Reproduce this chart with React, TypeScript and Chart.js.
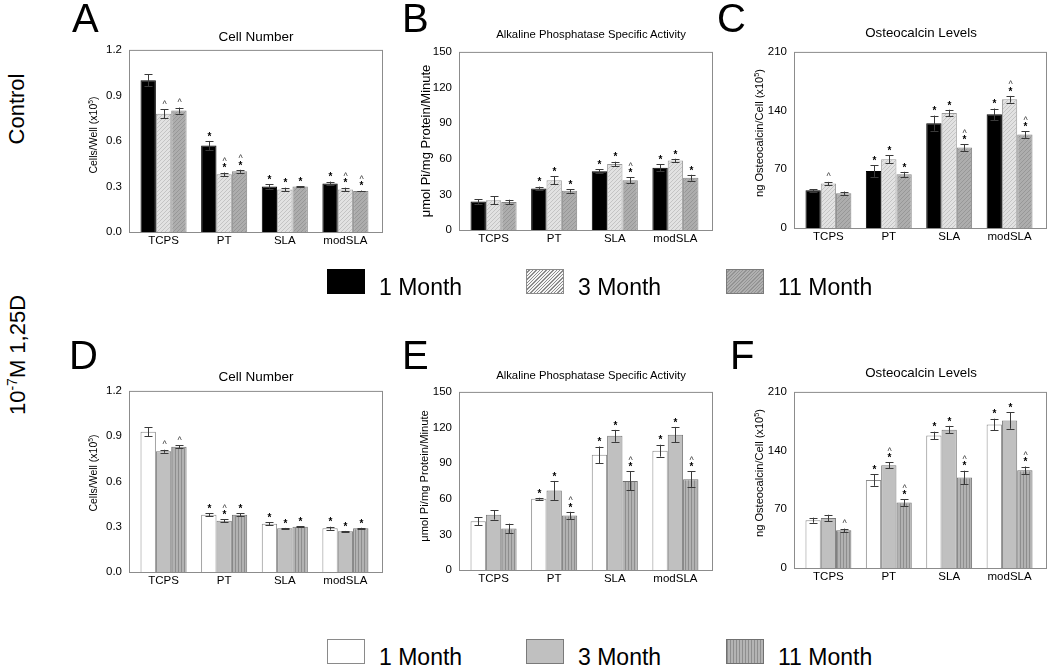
import React, { useEffect, useRef } from 'react';
import { Chart, registerables } from 'chart.js';
Chart.register(...registerables);

const FONT = "'Liberation Sans', Arial, Helvetica, sans-serif";

const categories = ['TCPS', 'PT', 'SLA', 'modSLA'];
const seriesNames = ['1 Month', '3 Month', '11 Month'];

const yTicksCell = [0, 0.3, 0.6, 0.9, 1.2];
const yTicksAlp = [0, 30, 60, 90, 120, 150];
const yTicksOc = [0, 70, 140, 210];

// Panel A — Control, cell number
const cellCtrl1 = [1.0, 0.57, 0.3, 0.32];
const cellCtrl3 = [0.78, 0.38, 0.28, 0.28];
const cellCtrl11 = [0.8, 0.4, 0.3, 0.27];
const cellCtrl1Err = [0.04, 0.03, 0.014, 0.012];
const cellCtrl3Err = [0.03, 0.012, 0.012, 0.012];
const cellCtrl11Err = [0.02, 0.01, 0.003, 0.003];
const cellCtrl1Sig = ['', '*', '*', '*'];
const cellCtrl3Sig = ['^', '*^', '*', '*^'];
const cellCtrl11Sig = ['^', '*^', '*', '*^'];

// Panel B — Control, ALP
const alpCtrl1 = [24, 35, 49.5, 52.5];
const alpCtrl3 = [25, 42, 55.5, 58.5];
const alpCtrl11 = [23.5, 33, 42, 44];
const alpCtrl1Err = [2, 1.5, 1.5, 3];
const alpCtrl3Err = [3.5, 3.5, 2, 1.5];
const alpCtrl11Err = [2, 1.5, 2.5, 2.5];
const alpCtrl1Sig = ['', '*', '*', '*'];
const alpCtrl3Sig = ['', '*', '*', '*'];
const alpCtrl11Sig = ['', '*', '*^', '*'];

// Panel C — Control, osteocalcin
const ocCtrl1 = [45, 68, 125, 135.5];
const ocCtrl3 = [53, 82, 137, 153.5];
const ocCtrl11 = [41.5, 64, 96, 111.5];
const ocCtrl1Err = [1.5, 7, 9, 7];
const ocCtrl3Err = [2, 5, 4, 4];
const ocCtrl11Err = [2, 3, 4, 4];
const ocCtrl1Sig = ['', '*', '*', '*'];
const ocCtrl3Sig = ['^', '*', '*', '*^'];
const ocCtrl11Sig = ['', '*', '*^', '*^'];

// Panel D — 1,25D, cell number
const cellVD1 = [0.93, 0.38, 0.32, 0.29];
const cellVD3 = [0.8, 0.34, 0.29, 0.27];
const cellVD11 = [0.83, 0.38, 0.3, 0.29];
const cellVD1Err = [0.03, 0.01, 0.01, 0.01];
const cellVD3Err = [0.01, 0.01, 0.002, 0.002];
const cellVD11Err = [0.01, 0.01, 0.003, 0.003];
const cellVD1Sig = ['', '*', '*', '*'];
const cellVD3Sig = ['^', '*^', '*', '*'];
const cellVD11Sig = ['^', '*', '*', '*'];

// Panel E — 1,25D, ALP
const alpVD1 = [41, 60, 97, 100.5];
const alpVD3 = [46.5, 67, 113, 114];
const alpVD11 = [35, 46, 75, 76.5];
const alpVD1Err = [3.5, 0.8, 7, 5];
const alpVD3Err = [4, 8, 5, 6.5];
const alpVD11Err = [4, 3, 8, 6.5];
const alpVD1Sig = ['', '*', '*', '*'];
const alpVD3Sig = ['', '*', '*', '*'];
const alpVD11Sig = ['', '*^', '*^', '*^'];

// Panel F — 1,25D, osteocalcin
const ocVD1 = [57, 105, 158, 171];
const ocVD3 = [59.5, 122.5, 165, 176];
const ocVD11 = [45, 78, 108, 116.5];
const ocVD1Err = [3, 7, 4.5, 7];
const ocVD3Err = [4, 3.5, 4.5, 10];
const ocVD11Err = [2, 4, 8, 4.5];
const ocVD1Sig = ['', '*', '*', '*'];
const ocVD3Sig = ['', '*^', '*', '*'];
const ocVD11Sig = ['^', '*^', '*^', '*^'];

const X_MIN = -0.57;
const X_MAX = 3.62;

type FillKey = 'black' | 'diagLight' | 'diagGray' | 'white' | 'gray' | 'vertGray';

type Spec = {
  L: number; T: number; R: number; B: number;
  yMax: number; yTicks: number[]; yDec: number;
  means: number[][]; errs: number[][]; sigs: string[][];
  fills: FillKey[]; borders: string[];
};

function makeFill(key: FillKey): string | CanvasPattern {
  if (key === 'black') return '#000000';
  if (key === 'white') return '#ffffff';
  if (key === 'gray') return '#c0c0c0';
  const c = document.createElement('canvas');
  const ctx = c.getContext('2d')!;
  if (key === 'vertGray') {
    c.width = 3; c.height = 3;
    ctx.fillStyle = '#b2b2b2';
    ctx.fillRect(0, 0, 3, 3);
    ctx.fillStyle = '#8e8e8e';
    ctx.fillRect(0, 0, 1, 3);
  } else {
    c.width = 4; c.height = 4;
    ctx.fillStyle = key === 'diagLight' ? '#e2e2e2' : '#adadad';
    ctx.fillRect(0, 0, 4, 4);
    ctx.strokeStyle = key === 'diagLight' ? '#c4c4c4' : '#979797';
    ctx.lineWidth = 1;
    ctx.beginPath();
    ctx.moveTo(-1, 5); ctx.lineTo(5, -1);
    ctx.moveTo(-1, 1); ctx.lineTo(1, -1);
    ctx.moveTo(3, 5); ctx.lineTo(5, 3);
    ctx.stroke();
  }
  return ctx.createPattern(c, 'repeat')!;
}

const PAD_L = 44, PAD_R = 4, PAD_T = 12, PAD_B = 24;

function BarPanel({ spec }: { spec: Spec }) {
  const ref = useRef<HTMLCanvasElement>(null);
  const W = spec.R - spec.L + PAD_L + PAD_R;
  const H = spec.B - spec.T + PAD_T + PAD_B;
  useEffect(() => {
    const fills = spec.fills.map(makeFill);
    const decorate = {
      id: 'decorate',
      afterDatasetsDraw(chart: any) {
        const ctx = chart.ctx;
        const y = chart.scales.y;
        const a = chart.chartArea;
        ctx.save();
        ctx.strokeStyle = '#8c8c8c';
        ctx.lineWidth = 1;
        ctx.strokeRect(a.left + 0.5, a.top + 0.5, a.right - a.left - 1, a.bottom - a.top);
        spec.means.forEach((m, d) => {
          const meta = chart.getDatasetMeta(d);
          meta.data.forEach((el: any, i: number) => {
            const x = Math.round(el.x) + 0.5;
            const e = spec.errs[d][i];
            const top = y.getPixelForValue(m[i] + e);
            const bot = y.getPixelForValue(Math.max(0, m[i] - e));
            ctx.strokeStyle = '#3a3a3a';
            ctx.beginPath();
            ctx.moveTo(x, top); ctx.lineTo(x, bot);
            ctx.moveTo(x - 4, Math.round(top) + 0.5); ctx.lineTo(x + 4, Math.round(top) + 0.5);
            ctx.moveTo(x - 4, Math.round(bot) + 0.5); ctx.lineTo(x + 4, Math.round(bot) + 0.5);
            ctx.stroke();
            const s = spec.sigs[d][i];
            ctx.fillStyle = '#000';
            ctx.textAlign = 'center';
            ctx.textBaseline = 'middle';
            let yy = top - 4;
            if (s.includes('*')) {
              ctx.font = `bold 10px ${FONT}`;
              ctx.fillText('*', x, yy);
              yy -= 7;
            } else {
              yy -= 1;
            }
            if (s.includes('^')) {
              ctx.font = `9px ${FONT}`;
              ctx.fillStyle = '#333';
              ctx.fillText('^', x, yy);
            }
          });
        });
        ctx.restore();
      },
    };
    const chart = new Chart(ref.current!, {
      type: 'bar',
      data: {
        datasets: spec.means.map((m, d) => ({
          label: seriesNames[d],
          data: m.map((v, i) => ({ x: i, y: v })),
          backgroundColor: fills[d] as any,
          borderColor: spec.borders[d],
          borderWidth: 1,
          categoryPercentage: 0.76,
          barPercentage: 1,
        })),
      },
      options: {
        responsive: false,
        animation: false,
        devicePixelRatio: 1,
        layout: { padding: { left: 0, right: PAD_R, top: PAD_T, bottom: 0 } },
        plugins: { legend: { display: false }, tooltip: { enabled: false }, title: { display: false } },
        scales: {
          x: {
            type: 'linear',
            min: X_MIN,
            max: X_MAX,
            offset: false,
            grid: { display: false, drawTicks: false },
            border: { display: false },
            afterBuildTicks: (axis: any) => { axis.ticks = categories.map((_, i) => ({ value: i })); },
            afterFit: (axis: any) => { axis.height = PAD_B; },
            ticks: {
              autoSkip: false, maxRotation: 0, padding: 2, color: '#000',
              font: { family: FONT, size: 11.5 },
              callback: (v: any) => categories[v] ?? '',
            },
          },
          y: {
            min: 0,
            max: spec.yMax,
            grid: { display: false, drawTicks: false },
            border: { display: false },
            afterBuildTicks: (axis: any) => { axis.ticks = spec.yTicks.map((v) => ({ value: v })); },
            afterFit: (axis: any) => { axis.width = PAD_L; },
            ticks: {
              padding: 7, color: '#000',
              font: { family: FONT, size: 11.5 },
              callback: (v: any) => Number(v).toFixed(spec.yDec),
            },
          },
        },
      },
      plugins: [decorate],
    } as any);
    return () => chart.destroy();
  }, []);
  return (
    <canvas
      ref={ref}
      width={W}
      height={H}
      style={{ position: 'absolute', left: spec.L - PAD_L, top: spec.T - PAD_T, width: W, height: H }}
    />
  );
}

const ctrlFills: FillKey[] = ['black', 'diagLight', 'diagGray'];
const ctrlBorders = ['#000000', '#9a9a9a', '#858585'];
const vdFills: FillKey[] = ['white', 'gray', 'vertGray'];
const vdBorders = ['#8a8a8a', '#7a7a7a', '#707070'];

const specs: Spec[] = [
  { L: 129, T: 48, R: 383, B: 232, yMax: 1.2, yTicks: yTicksCell, yDec: 1,
    means: [cellCtrl1, cellCtrl3, cellCtrl11], errs: [cellCtrl1Err, cellCtrl3Err, cellCtrl11Err],
    sigs: [cellCtrl1Sig, cellCtrl3Sig, cellCtrl11Sig], fills: ctrlFills, borders: ctrlBorders },
  { L: 459, T: 50, R: 713, B: 230, yMax: 150, yTicks: yTicksAlp, yDec: 0,
    means: [alpCtrl1, alpCtrl3, alpCtrl11], errs: [alpCtrl1Err, alpCtrl3Err, alpCtrl11Err],
    sigs: [alpCtrl1Sig, alpCtrl3Sig, alpCtrl11Sig], fills: ctrlFills, borders: ctrlBorders },
  { L: 794, T: 50, R: 1047, B: 228, yMax: 210, yTicks: yTicksOc, yDec: 0,
    means: [ocCtrl1, ocCtrl3, ocCtrl11], errs: [ocCtrl1Err, ocCtrl3Err, ocCtrl11Err],
    sigs: [ocCtrl1Sig, ocCtrl3Sig, ocCtrl11Sig], fills: ctrlFills, borders: ctrlBorders },
  { L: 129, T: 389, R: 383, B: 572, yMax: 1.2, yTicks: yTicksCell, yDec: 1,
    means: [cellVD1, cellVD3, cellVD11], errs: [cellVD1Err, cellVD3Err, cellVD11Err],
    sigs: [cellVD1Sig, cellVD3Sig, cellVD11Sig], fills: vdFills, borders: vdBorders },
  { L: 459, T: 390, R: 713, B: 570, yMax: 150, yTicks: yTicksAlp, yDec: 0,
    means: [alpVD1, alpVD3, alpVD11], errs: [alpVD1Err, alpVD3Err, alpVD11Err],
    sigs: [alpVD1Sig, alpVD3Sig, alpVD11Sig], fills: vdFills, borders: vdBorders },
  { L: 794, T: 390, R: 1047, B: 568, yMax: 210, yTicks: yTicksOc, yDec: 0,
    means: [ocVD1, ocVD3, ocVD11], errs: [ocVD1Err, ocVD3Err, ocVD11Err],
    sigs: [ocVD1Sig, ocVD3Sig, ocVD11Sig], fills: vdFills, borders: vdBorders },
];

const titles = [
  { text: 'Cell Number', x: 256, y: 37, size: 13.5 },
  { text: 'Alkaline Phosphatase Specific Activity', x: 591, y: 35, size: 11.3 },
  { text: 'Osteocalcin Levels', x: 921, y: 33, size: 13.3 },
  { text: 'Cell Number', x: 256, y: 377, size: 13.5 },
  { text: 'Alkaline Phosphatase Specific Activity', x: 591, y: 376, size: 11.3 },
  { text: 'Osteocalcin Levels', x: 921, y: 373, size: 13.3 },
];

const cellAxis = <>Cells/Well (x10<sup style={{ fontSize: '0.65em' }}>5</sup>)</>;
const alpAxis = <>μmol Pi/mg Protein/Minute</>;
const ocAxis = <>ng Osteocalcin/Cell (x10<sup style={{ fontSize: '0.65em' }}>5</sup>)</>;

const yTitles = [
  { node: cellAxis, x: 93, y: 135, size: 10.5 },
  { node: alpAxis, x: 425, y: 141, size: 13 },
  { node: ocAxis, x: 759, y: 133, size: 11.1 },
  { node: cellAxis, x: 93, y: 473, size: 10.5 },
  { node: alpAxis, x: 425, y: 476, size: 11.2 },
  { node: ocAxis, x: 759, y: 473, size: 11.1 },
];

const letters = [
  { t: 'A', x: 72, y: -2 }, { t: 'B', x: 402, y: -2 }, { t: 'C', x: 717, y: -2 },
  { t: 'D', x: 69, y: 335 }, { t: 'E', x: 402, y: 335 }, { t: 'F', x: 730, y: 335 },
];

const legendSwatchCtrl = [
  { background: '#000', border: '1px solid #000' },
  { background: 'repeating-linear-gradient(135deg, #f4f4f4 0px, #f4f4f4 1.4px, #8a8a8a 1.4px, #8a8a8a 2.4px)', border: '1px solid #8a8a8a' },
  { background: 'repeating-linear-gradient(135deg, #b0b0b0 0px, #b0b0b0 1.4px, #939393 1.4px, #939393 2.4px)', border: '1px solid #7a7a7a' },
];
const legendSwatchVD = [
  { background: '#fff', border: '1px solid #8a8a8a' },
  { background: '#c0c0c0', border: '1px solid #7a7a7a' },
  { background: 'repeating-linear-gradient(90deg, #8e8e8e 0px, #8e8e8e 1px, #b4b4b4 1px, #b4b4b4 3px)', border: '1px solid #707070' },
];
const legendX = [327, 526, 726];

function Legend({ top, swatches }: { top: number; swatches: any[] }) {
  return (
    <>
      {seriesNames.map((n, i) => (
        <React.Fragment key={n}>
          <div style={{ position: 'absolute', left: legendX[i], top, width: 38, height: 25, boxSizing: 'border-box', ...swatches[i] }} />
          <div style={{ position: 'absolute', left: legendX[i] + 52, top: top + 6.5, fontSize: 23, lineHeight: '23px', fontFamily: FONT, whiteSpace: 'nowrap', color: '#000' }}>{n}</div>
        </React.Fragment>
      ))}
    </>
  );
}

export default function App() {
  return (
    <div style={{ position: 'fixed', left: 0, top: 0, width: 1050, height: 668, background: '#fff', overflow: 'hidden', fontFamily: FONT }}>
      {specs.map((s, i) => <BarPanel key={i} spec={s} />)}
      {titles.map((t, i) => (
        <div key={'t' + i} style={{ position: 'absolute', left: t.x, top: t.y, transform: 'translate(-50%, -50%)', fontSize: t.size, whiteSpace: 'nowrap', lineHeight: 1 }}>{t.text}</div>
      ))}
      {yTitles.map((t, i) => (
        <div key={'y' + i} style={{ position: 'absolute', left: t.x, top: t.y, transform: 'translate(-50%, -50%) rotate(-90deg)', fontSize: t.size, whiteSpace: 'nowrap', lineHeight: 1 }}>{t.node}</div>
      ))}
      {letters.map((l) => (
        <div key={l.t} style={{ position: 'absolute', left: l.x, top: l.y, fontSize: 40, lineHeight: '40px', whiteSpace: 'nowrap' }}>{l.t}</div>
      ))}
      <Legend top={269} swatches={legendSwatchCtrl} />
      <Legend top={639} swatches={legendSwatchVD} />
      <div style={{ position: 'absolute', left: 17, top: 109, transform: 'translate(-50%, -50%) rotate(-90deg)', fontSize: 22, whiteSpace: 'nowrap', lineHeight: 1 }}>Control</div>
      <div style={{ position: 'absolute', left: 17, top: 355, transform: 'translate(-50%, -50%) rotate(-90deg)', fontSize: 22, whiteSpace: 'nowrap', lineHeight: 1 }}>
        10<span style={{ fontSize: 14, verticalAlign: '8px' }}>-7</span>M 1,25D
      </div>
    </div>
  );
}
